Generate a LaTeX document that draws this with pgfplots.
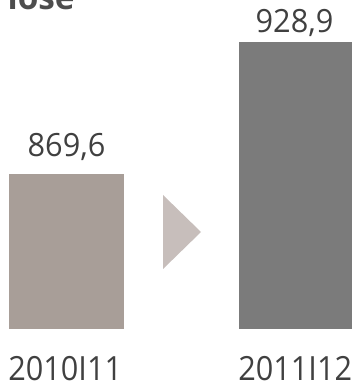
\documentclass[border=0pt]{standalone}
\usepackage{pgfplots}
\pgfplotsset{compat=1.18}
\usepackage{fontspec}
\setmainfont{Open Sans}
\newfontfamily\tickfont[FakeStretch=0.92]{Open Sans}
\newfontfamily\valfont[FakeStretch=0.96]{Open Sans}
\definecolor{barA}{RGB}{168,158,152}
\definecolor{barB}{RGB}{123,123,123}
\definecolor{tri}{RGB}{199,190,187}
\definecolor{txt}{RGB}{64,64,64}
\begin{document}
\begin{tikzpicture}
\begin{axis}[
  at={(0pt,42pt)}, anchor=south west,
  scale only axis, width=264pt, height=246.75pt,
  xmin=-0.28913, xmax=1.24130,
  ymin=800, ymax=947.77,
  axis line style={draw=none}, major tick length=0pt,
  ytick=\empty, xtick={0,1}, xticklabels={2010I11,2011I12},
  xticklabel style={anchor=base, inner sep=0pt, xshift=-1pt, yshift=-38.5pt, font=\tickfont\fontsize{25}{28}\selectfont, text=txt},
  clip=false,
  ybar, bar width=86.25pt,
]
\addplot[fill=barA, draw=none, bar shift=0pt] coordinates {(0,869.6)};
\addplot[fill=barB, draw=none, bar shift=0pt] coordinates {(1,928.9)};
\node[anchor=base, inner sep=0pt, font=\valfont\fontsize{24}{28}\selectfont, text=txt, yshift=13.5pt] at (axis cs:0,869.6) {869,6};
\node[anchor=base, inner sep=0pt, font=\valfont\fontsize{24}{28}\selectfont, text=txt, yshift=7.5pt, xshift=-1.5pt] at (axis cs:1,928.9) {928,9};
\end{axis}
\fill[tri] (122.25pt,142.5pt) -- (122.25pt,87pt) -- (150.75pt,114.75pt) -- cycle;
\node[anchor=base west, inner sep=0pt, font=\fontsize{25}{30}\selectfont\bfseries, text={rgb,255:red,77;green,77;blue,77}] at (5.5pt,281.25pt) {lose};
\pgfresetboundingbox
\useasboundingbox (0,0) rectangle (264pt,288.75pt);
\end{tikzpicture}
\end{document}
